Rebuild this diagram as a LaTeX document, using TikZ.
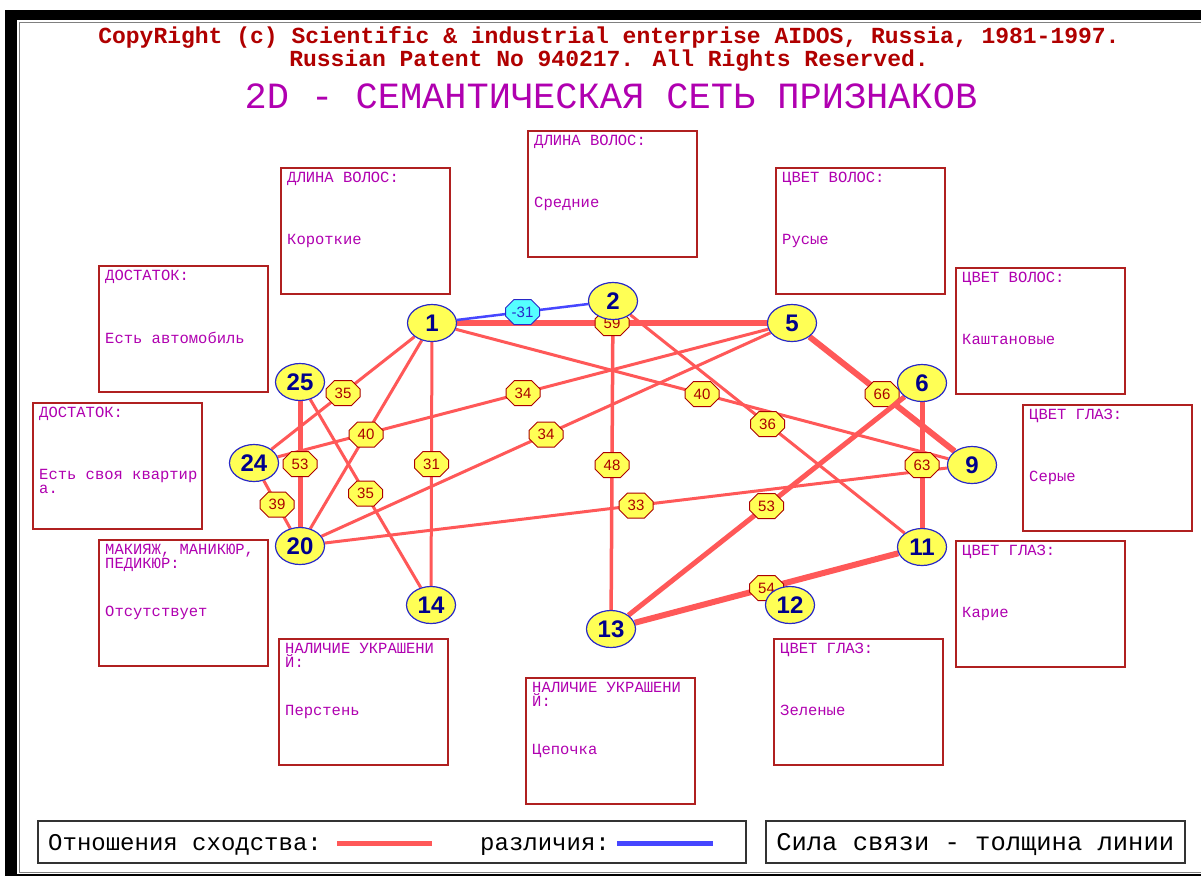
\documentclass[tikz,border=0pt]{standalone}
\usepackage{fontspec}
\setmainfont{Liberation Sans}
\newfontfamily\pixmono{Liberation Mono}
\usetikzlibrary{shapes.geometric, shapes.misc}

\definecolor{simred}{RGB}{255,88,88}
\definecolor{difblue}{RGB}{70,70,255}
\definecolor{boxred}{RGB}{176,32,32}
\definecolor{boxmag}{RGB}{176,0,176}
\definecolor{cpred}{RGB}{176,0,0}
\definecolor{nodeyel}{RGB}{255,255,85}
\definecolor{nodeblue}{RGB}{40,40,200}
\definecolor{numblue}{RGB}{0,0,140}
\definecolor{labred}{RGB}{170,0,0}
\definecolor{labcyan}{RGB}{85,255,255}

\pgfdeclarelayer{frame}
\pgfdeclarelayer{edges}
\pgfsetlayers{frame,edges,main}

\tikzset{
  sign/.style={ellipse, draw=nodeblue, line width=1.2pt, fill=nodeyel,
    minimum width=49pt, minimum height=37pt, inner sep=0pt, text=numblue,
    font=\fontsize{24}{24}\selectfont\bfseries},
  weight/.style={chamfered rectangle, chamfered rectangle xsep=5pt,
    draw=labred, line width=1pt, fill=nodeyel, minimum width=34pt,
    minimum height=25pt, inner sep=0pt, text=labred,
    font=\fontsize{15}{15}\selectfont},
  negweight/.style={weight, draw=nodeblue, fill=labcyan, text=nodeblue},
  simline/.style={draw=simred, line width=#1},
  difline/.style={draw=difblue, line width=#1},
  featbox/.style={draw=boxred, line width=1.6pt, minimum width=169pt,
    minimum height=126pt, anchor=north west, inner sep=0pt},
  feattext/.style={anchor=north west, inner sep=0pt, align=left, text=boxmag,
    font=\pixmono\fontsize{15.5}{14}\selectfont},
  legendbox/.style={draw=black!80, line width=1.5pt, minimum height=42pt,
    anchor=north west, inner sep=0pt},
  legendtext/.style={inner sep=0pt, font=\pixmono\fontsize{24}{24}\selectfont},
}

% feature box: name, corner, header, value
\newcommand{\featbox}[4]{%
  \node[featbox] (#1) at (#2) {};
  \node[feattext] (#1head) at ([xshift=7pt,yshift=-5pt]#1.north west) {#3};
  \node[feattext] (#1val) at ([xshift=7pt,yshift=-67pt]#1.north west) {#4};
}

\begin{document}
\begin{tikzpicture}[x=1pt,y=-1pt]
  \useasboundingbox (0,0) rectangle (1201,876);

  % frame
  \begin{pgfonlayer}{frame}
    \fill[white] (0,0) rectangle (1201,876);
    \fill[black] (5,10) rectangle (1201,876);
    \fill[white] (17,20) rectangle (1201,874);
    \draw[gray, line width=1.5pt] (19.5,872.5) -- (19.5,22.5) -- (1201,22.5);
    \draw[gray, line width=1.5pt] (19.5,872.5) -- (1201,872.5);
  \end{pgfonlayer}

  % header
  \node[font=\pixmono\bfseries\fontsize{23}{20}\selectfont, text=cpred, align=center]
    (copyright) at (609,49) {CopyRight (c) Scientific \& industrial enterprise AIDOS, Russia, 1981-1997.\\
    Russian Patent No 940217. All Rights Reserved.};
  \node[font=\pixmono\fontsize{37}{37}\selectfont, text=boxmag] (title) at (611,96)
    {2D - СЕМАНТИЧЕСКАЯ СЕТЬ ПРИЗНАКОВ};

  % feature boxes
  \featbox{lenshort}{280,167}{ДЛИНА ВОЛОС:}{Короткие}
  \featbox{lenmid}{527,130}{ДЛИНА ВОЛОС:}{Средние}
  \featbox{hairfair}{775,167}{ЦВЕТ ВОЛОС:}{Русые}
  \featbox{richcar}{98,265}{ДОСТАТОК:}{Есть автомобиль}
  \featbox{hairbrown}{955,267}{ЦВЕТ ВОЛОС:}{Каштановые}
  \featbox{richflat}{32,402}{ДОСТАТОК:}{Есть своя квартир\\а.}
  \featbox{eyegrey}{1022,404}{ЦВЕТ ГЛАЗ:}{Серые}
  \featbox{makeup}{98,539}{МАКИЯЖ, МАНИКЮР,\\ПЕДИКЮР:}{Отсутствует}
  \featbox{eyebrown}{955,540}{ЦВЕТ ГЛАЗ:}{Карие}
  \featbox{ring}{278,638}{НАЛИЧИЕ УКРАШЕНИ\\Й:}{Перстень}
  \featbox{eyegreen}{773,638}{ЦВЕТ ГЛАЗ:}{Зеленые}
  \featbox{chain}{525,677}{НАЛИЧИЕ УКРАШЕНИ\\Й:}{Цепочка}

  % sign nodes
  \node[sign] (s1) at (432,323) {1};
  \node[sign] (s2) at (613,301) {2};
  \node[sign] (s5) at (792,323) {5};
  \node[sign] (s6) at (922,383) {6};
  \node[sign] (s9) at (972,465) {9};
  \node[sign] (s11) at (922,547) {11};
  \node[sign] (s12) at (790,605) {12};
  \node[sign] (s13) at (611,629) {13};
  \node[sign] (s14) at (431,605) {14};
  \node[sign] (s20) at (300,546) {20};
  \node[sign] (s24) at (254,463) {24};
  \node[sign] (s25) at (300,382) {25};

  % links
  \begin{pgfonlayer}{edges}
    \draw[simline=3pt] (s5) -- node[weight] {34} (s24);
    \draw[simline=3pt] (s5) -- node[weight] {34} (s20);
    \draw[simline=3pt] (s1) -- node[weight] {35} (s24);
    \draw[simline=3pt] (s1) -- node[weight] {31} (s14);
    \draw[simline=3.5pt] (s2) -- node[weight] {48} (s13);
    \draw[simline=3pt] (s9) -- node[weight] {33} (s20);
    \draw[simline=3pt] (s1) -- node[weight] {40} (s9);
    \draw[simline=3pt] (s2) -- node[weight] {36} (s11);
    \draw[simline=3pt] (s25) -- node[weight] {35} (s14);
    \draw[simline=3pt] (s24) -- node[weight] {39} (s20);
    \draw[simline=3pt] (s1) -- node[weight] {40} (s20);
    \draw[simline=5pt] (s25) -- node[weight] {53} (s20);
    \draw[simline=6pt] (s1) -- node[weight] {59} (s5);
    \draw[simline=6pt] (s5) -- node[weight] {66} (s9);
    \draw[simline=5pt] (s6) -- node[weight] {53} (s13);
    \draw[simline=6pt] (s11) -- node[weight] {54} (s13);
    \draw[simline=5pt] (s6) -- node[weight] {63} (s11);
    \draw[difline=2.5pt] (s1) -- node[negweight] {-31} (s2);
  \end{pgfonlayer}

  % legend
  \node[legendbox, minimum width=708pt] (legsim) at (37,820) {};
  \node[legendbox, minimum width=419pt] (legforce) at (765,820) {};
  \node[legendtext, anchor=base west] (simtext) at (48,850) {Отношения сходства:};
  \draw[simline=5pt] ([xshift=15pt,yshift=7pt]simtext.base east) -- ++(95,0);
  \node[legendtext, anchor=base west] (diftext) at (480,850) {различия:};
  \draw[difline=5pt] ([xshift=7pt,yshift=7pt]diftext.base east) -- ++(96,0);
  \node[legendtext, font=\pixmono\fontsize{25.5}{25}\selectfont, anchor=base]
    (forcetext) at ([yshift=-9pt]legforce.center) {Сила связи - толщина линии};
\end{tikzpicture}
\end{document}
